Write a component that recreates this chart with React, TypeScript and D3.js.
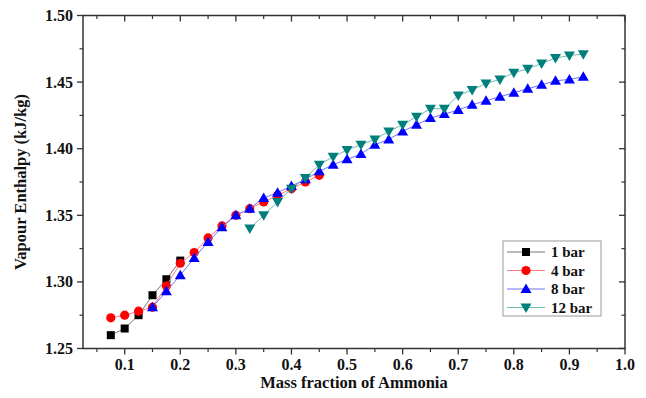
import React from "react";
import * as d3 from "d3";

const xs1 = [0.075, 0.1, 0.125, 0.15, 0.175, 0.2];
const bar1 = [1.26, 1.265, 1.275, 1.29, 1.302, 1.316];

const xs4 = [0.075, 0.1, 0.125, 0.15, 0.175, 0.2, 0.225, 0.25, 0.275, 0.3, 0.325, 0.35, 0.375, 0.4, 0.425, 0.45];
const bar4 = [1.273, 1.275, 1.278, 1.281, 1.297, 1.314, 1.322, 1.333, 1.342, 1.35, 1.355, 1.36, 1.365, 1.37, 1.375, 1.38];

const xs8 = [0.15, 0.175, 0.2, 0.225, 0.25, 0.275, 0.3, 0.325, 0.35, 0.375, 0.4, 0.425, 0.45, 0.475, 0.5, 0.525, 0.55, 0.575, 0.6, 0.625, 0.65, 0.675, 0.7, 0.725, 0.75, 0.775, 0.8, 0.825, 0.85, 0.875, 0.9, 0.925];
const bar8 = [1.281, 1.293, 1.305, 1.318, 1.33, 1.341, 1.35, 1.355, 1.363, 1.367, 1.372, 1.377, 1.383, 1.388, 1.392, 1.396, 1.403, 1.407, 1.413, 1.418, 1.423, 1.426, 1.429, 1.433, 1.436, 1.439, 1.442, 1.445, 1.448, 1.451, 1.452, 1.454];

const xs12 = [0.325, 0.35, 0.375, 0.4, 0.425, 0.45, 0.475, 0.5, 0.525, 0.55, 0.575, 0.6, 0.625, 0.65, 0.675, 0.7, 0.725, 0.75, 0.775, 0.8, 0.825, 0.85, 0.875, 0.9, 0.925];
const bar12 = [1.34, 1.35, 1.36, 1.37, 1.378, 1.388, 1.394, 1.399, 1.403, 1.407, 1.413, 1.418, 1.424, 1.43, 1.43, 1.44, 1.444, 1.449, 1.452, 1.457, 1.46, 1.464, 1.468, 1.47, 1.471];

const seriesNames = ["1 bar", "4 bar", "8 bar", "12 bar"];
const xTickVals = [0.1, 0.2, 0.3, 0.4, 0.5, 0.6, 0.7, 0.8, 0.9, 1.0];
const xMinorVals = [0.05, 0.15, 0.25, 0.35, 0.45, 0.55, 0.65, 0.75, 0.85, 0.95];
const yTickVals = [1.25, 1.3, 1.35, 1.4, 1.45, 1.5];
const yMinorVals = [1.275, 1.325, 1.375, 1.425, 1.475];

const W = 646, H = 398;
const L = 83, R = 625, T = 15.5, B = 348.5;
const FONT = "'Liberation Serif', 'Times New Roman', serif";

type Shape = "square" | "circle" | "up" | "down";
const styles: { color: string; line: string; shape: Shape }[] = [
  { color: "#000000", line: "#777777", shape: "square" },
  { color: "#ff0000", line: "#ff8080", shape: "circle" },
  { color: "#0000ff", line: "#7070ff", shape: "up" },
  { color: "#00807a", line: "#70b8b2", shape: "down" },
];

function Marker({ x, y, shape, color }: { x: number; y: number; shape: Shape; color: string }) {
  if (shape === "square") return <rect x={x - 4} y={y - 4} width={8} height={8} fill={color} />;
  if (shape === "circle") return <circle cx={x} cy={y} r={4.6} fill={color} />;
  if (shape === "up") return <path d={`M${x},${y - 5.5} L${x + 5.5},${y + 4} L${x - 5.5},${y + 4} Z`} fill={color} />;
  return <path d={`M${x},${y + 5.5} L${x + 5.5},${y - 4} L${x - 5.5},${y - 4} Z`} fill={color} />;
}

export default function App() {
  const x = d3.scaleLinear().domain([0.025, 1.0]).range([L, R]);
  const y = d3.scaleLinear().domain([1.25, 1.5]).range([B, T]);
  const data = [
    xs1.map((v, i) => [v, bar1[i]]),
    xs4.map((v, i) => [v, bar4[i]]),
    xs8.map((v, i) => [v, bar8[i]]),
    xs12.map((v, i) => [v, bar12[i]]),
  ];
  const line = d3.line<number[]>().x((d) => x(d[0])).y((d) => y(d[1]));
  const axisColor = "#333";
  const legendX = 503, legendY = 241;
  const rows = [252, 270.5, 289, 307.5];
  return (
    <svg width={W} height={H} style={{ position: "absolute", left: 0, top: 0, background: "#fff" }} fontFamily={FONT}>
      <rect x={0} y={0} width={W} height={H} fill="#fff" />
      {/* frame */}
      <rect x={L} y={T} width={R - L} height={B - T} fill="none" stroke={axisColor} strokeWidth={1.5} />
      {/* x ticks */}
      {xTickVals.map((v) => (
        <g key={"xt" + v}>
          <line x1={x(v)} x2={x(v)} y1={B} y2={B + 6} stroke={axisColor} strokeWidth={1.3} />
          <line x1={x(v)} x2={x(v)} y1={T} y2={T + 6} stroke={axisColor} strokeWidth={1.3} />
          <text x={x(v)} y={369.5} textAnchor="middle" fontSize={16} fontWeight="bold" fill="#111">{v.toFixed(1)}</text>
        </g>
      ))}
      {xMinorVals.map((v) => (
        <g key={"xm" + v}>
          <line x1={x(v)} x2={x(v)} y1={B} y2={B + 3.5} stroke={axisColor} strokeWidth={1.2} />
          <line x1={x(v)} x2={x(v)} y1={T} y2={T + 3.5} stroke={axisColor} strokeWidth={1.2} />
        </g>
      ))}
      {yTickVals.map((v) => (
        <g key={"yt" + v}>
          <line x1={L - 6} x2={L} y1={y(v)} y2={y(v)} stroke={axisColor} strokeWidth={1.3} />
          <line x1={R - 6} x2={R} y1={y(v)} y2={y(v)} stroke={axisColor} strokeWidth={1.3} />
          <text x={73} y={y(v) + 5.5} textAnchor="end" fontSize={16} fontWeight="bold" fill="#111">{v.toFixed(2)}</text>
        </g>
      ))}
      {yMinorVals.map((v) => (
        <g key={"ym" + v}>
          <line x1={L - 3.5} x2={L} y1={y(v)} y2={y(v)} stroke={axisColor} strokeWidth={1.2} />
          <line x1={R - 3.5} x2={R} y1={y(v)} y2={y(v)} stroke={axisColor} strokeWidth={1.2} />
        </g>
      ))}
      {/* axis titles */}
      <text x={(L + R) / 2} y={388} textAnchor="middle" fontSize={16.5} fontWeight="bold" fill="#111">Mass fraction of Ammonia</text>
      <text transform={`translate(26,${(T + B) / 2}) rotate(-90)`} textAnchor="middle" fontSize={16.5} fontWeight="bold" fill="#111">Vapour Enthalpy (kJ/kg)</text>
      {/* series */}
      {data.map((pts, si) => (
        <g key={"s" + si}>
          <path d={line(pts) || ""} fill="none" stroke={styles[si].line} strokeWidth={1} />
          {pts.map((p, i) => (
            <Marker key={i} x={x(p[0])} y={y(p[1])} shape={styles[si].shape} color={styles[si].color} />
          ))}
        </g>
      ))}
      {/* legend */}
      <rect x={legendX} y={legendY} width={98} height={75} fill="#fff" stroke="#999" strokeWidth={1} />
      {seriesNames.map((n, i) => (
        <g key={"l" + i}>
          <line x1={507} x2={545} y1={rows[i]} y2={rows[i]} stroke={styles[i].line} strokeWidth={1} />
          <Marker x={526} y={rows[i]} shape={styles[i].shape} color={styles[i].color} />
          <text x={551} y={rows[i] + 5} fontSize={15} fontWeight="bold" fill="#111">{n}</text>
        </g>
      ))}
    </svg>
  );
}
